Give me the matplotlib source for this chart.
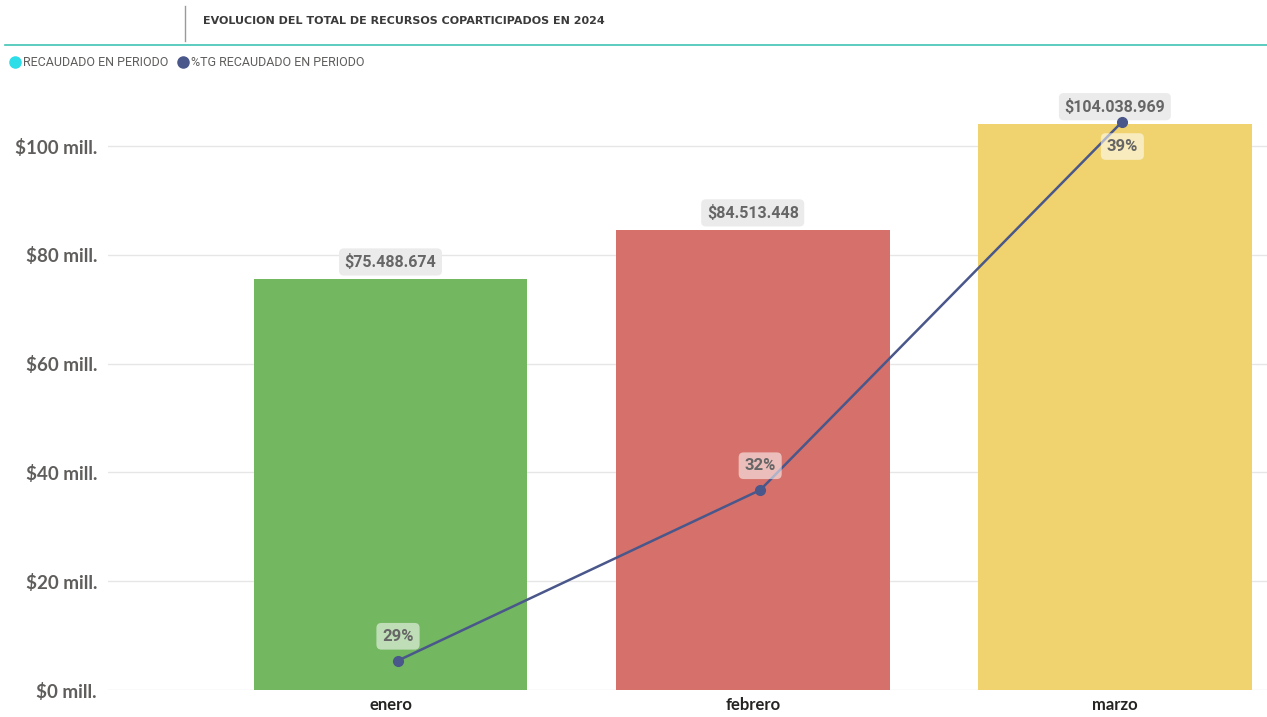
import matplotlib
matplotlib.use("Agg")
import matplotlib.pyplot as plt
from matplotlib.lines import Line2D
from matplotlib.transforms import ScaledTranslation

months = ["enero", "febrero", "marzo"]
recaudado_mill = [75.488674, 84.513448, 104.038969]
recaudado_labels = ["$75.488.674", "$84.513.448", "$104.038.969"]
pct_tg = [28.59, 32.01, 39.40]
pct_labels = ["29%", "32%", "39%"]
bar_colors = ["#73B761", "#D6706A", "#F0D36E"]
yticks = [0, 20, 40, 60, 80, 100]
ytick_labels = ["$0 mill.", "$20 mill.", "$40 mill.", "$60 mill.", "$80 mill.", "$100 mill."]

LINE_C = "#4A578A"
fig = plt.figure(figsize=(12.67, 7.17), dpi=100)
W, H = 1267, 717

def fx(px):
    return px / W

def fy(py):
    return 1 - py / H

ax = fig.add_axes([fx(108), fy(690), fx(1267) - fx(108), fy(91.6) - fy(690)])
x = list(range(len(months)))
ax.bar(x, recaudado_mill, width=0.756, color=bar_colors, zorder=2)
ax.set_xlim(-0.78, 2.42)
ax.set_ylim(0, 110)
ax.set_yticks(yticks)
ax.set_yticklabels(ytick_labels, fontsize=13.5, fontweight="bold", color="#605E5C", family="Lato")
ax.set_xticks(x)
ax.set_xticklabels(months, fontsize=12, fontweight="bold", color="#252423", family="Lato")
ax.tick_params(axis="y", length=0, pad=8)
ax.tick_params(axis="x", length=0, pad=5)
ax.grid(axis="y", color="#E6E6E6", linewidth=1, zorder=0)
ax.set_axisbelow(True)
for s in ax.spines.values():
    s.set_visible(False)

for xi, v, lab in zip(x, recaudado_mill, recaudado_labels):
    ax.annotate(lab, (xi, v), xytext=(0, 12.5), textcoords="offset points",
                ha="center", va="center", fontsize=11.5, fontweight="bold", color="#666666",
                family="Roboto",
                bbox=dict(boxstyle="round,pad=0.35,rounding_size=0.3", fc="#EBEBEB", ec="none"),
                zorder=5)

ax2 = ax.twinx()
ax2.set_ylim(28.0, 40.0)
ax2.set_xlim(-0.78, 2.42)
ax2.axis("off")
shift = ax2.transData + ScaledTranslation(7.5 / 100, 0, fig.dpi_scale_trans)
ax2.plot(x, pct_tg, color=LINE_C, linewidth=1.8, marker="o", markersize=7, zorder=4,
         transform=shift)
for i, (xi, p, lab) in enumerate(zip(x, pct_tg, pct_labels)):
    dy = -18 if i == len(x) - 1 else 17.5
    ax2.annotate(lab, (xi, p), xycoords=shift, xytext=(0, dy), textcoords="offset points",
                 ha="center", va="center", fontsize=12, fontweight="bold", color="#666666",
                 family="Roboto",
                 bbox=dict(boxstyle="round,pad=0.35,rounding_size=0.3", fc="#FFFFFF", alpha=0.55, ec="none"),
                 zorder=6)

# Title and header decorations
fig.text(fx(203), fy(21), "EVOLUCION DEL TOTAL DE RECURSOS COPARTICIPADOS EN 2024",
         fontsize=8, fontweight="bold", color="#3A3A3A", family="DejaVu Sans", va="center", ha="left")
fig.add_artist(Line2D([fx(5), fx(1267)], [fy(44.5), fy(44.5)], color="#40C4B4", linewidth=1.2))
fig.add_artist(Line2D([fx(184.5), fx(184.5)], [fy(6), fy(41)], color="#9A9A9A", linewidth=1))

# Legend
fig.add_artist(Line2D([fx(15)], [fy(62)], marker="o", markersize=8, color="#2DDDE8", linestyle="none"))
fig.text(fx(23), fy(62), "RECAUDADO EN PERIODO", fontsize=9, color="#605E5C", va="center", ha="left", family="Roboto")
fig.add_artist(Line2D([fx(183)], [fy(62)], marker="o", markersize=8, color=LINE_C, linestyle="none"))
fig.text(fx(191), fy(62), "%TG RECAUDADO EN PERIODO", fontsize=9, color="#605E5C", va="center", ha="left", family="Roboto")

fig.savefig("out.png", dpi=100, facecolor="white")
